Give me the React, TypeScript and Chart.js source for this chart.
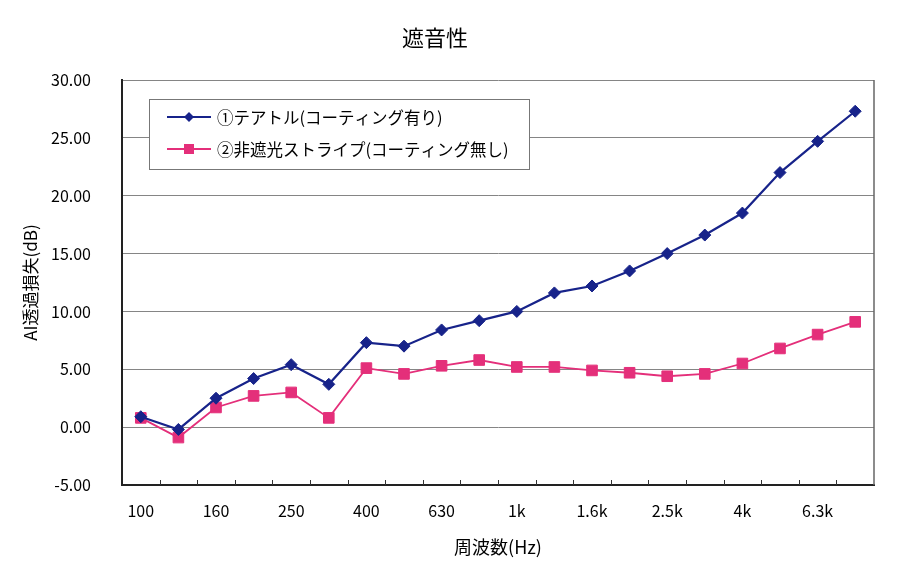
import React, { useEffect, useRef } from "react";
import { Chart, registerables } from "chart.js";

Chart.register(...registerables);

const categories = ["100", "125", "160", "200", "250", "315", "400", "500", "630", "800", "1k", "1.25k", "1.6k", "2k", "2.5k", "3.15k", "4k", "5k", "6.3k", "8k"];
const xTickLabels = ["100", "", "160", "", "250", "", "400", "", "630", "", "1k", "", "1.6k", "", "2.5k", "", "4k", "", "6.3k", ""];
const seriesCoated = [0.9, -0.2, 2.5, 4.2, 5.4, 3.7, 7.3, 7.0, 8.4, 9.2, 10.0, 11.6, 12.2, 13.5, 15.0, 16.6, 18.5, 22.0, 24.7, 27.3];
const seriesUncoated = [0.8, -0.9, 1.7, 2.7, 3.0, 0.8, 5.1, 4.6, 5.3, 5.8, 5.2, 5.2, 4.9, 4.7, 4.4, 4.6, 5.5, 6.8, 8.0, 9.1];
const seriesNames = ["①テアトル(コーティング有り)", "②非遮光ストライプ(コーティング無し)"];
const yTicks = { min: -5, max: 30, step: 5 };

const BLUE = "#17238a";
const PINK = "#e42f7a";
const FONT = "'Noto Sans CJK JP', 'Noto Sans', sans-serif";

const decorPlugin = {
  id: "decor",
  beforeDatasetsDraw(chart: any) {
    const { ctx, chartArea } = chart;
    const { left, right, top, bottom } = chartArea;
    ctx.save();
    ctx.strokeStyle = "#666";
    ctx.lineWidth = 1.5;
    ctx.beginPath();
    ctx.moveTo(right, top);
    ctx.lineTo(right, bottom);
    ctx.stroke();
    const xs = chart.scales.x;
    ctx.strokeStyle = "#333";
    ctx.lineWidth = 1;
    for (let i = 1; i < categories.length; i++) {
      const px = (xs.getPixelForValue(i - 1) + xs.getPixelForValue(i)) / 2;
      ctx.beginPath();
      ctx.moveTo(Math.round(px) + 0.5, bottom);
      ctx.lineTo(Math.round(px) + 0.5, bottom - 5);
      ctx.stroke();
    }
    ctx.restore();
  },
  afterDraw(chart: any) {
    const { ctx, chartArea } = chart;
    ctx.save();
    ctx.fillStyle = "#000";
    ctx.font = `22px ${FONT}`;
    ctx.textAlign = "center";
    ctx.textBaseline = "middle";
    ctx.fillText("遮音性", 435, 38);

    const bx = chartArea.left + 27;
    const by = chartArea.top + 19;
    const bw = 380;
    const bh = 70;
    ctx.fillStyle = "#fff";
    ctx.fillRect(bx, by, bw, bh);
    ctx.strokeStyle = "#777";
    ctx.lineWidth = 1;
    ctx.strokeRect(bx + 0.5, by + 0.5, bw, bh);

    const rows = [
      { name: seriesNames[0], color: BLUE, marker: "diamond", dy: 18 },
      { name: seriesNames[1], color: PINK, marker: "square", dy: 50 },
    ];
    ctx.font = `16.5px ${FONT}`;
    ctx.textAlign = "left";
    rows.forEach((r) => {
      const y = by + r.dy;
      ctx.strokeStyle = r.color;
      ctx.lineWidth = 2;
      ctx.beginPath();
      ctx.moveTo(bx + 18, y);
      ctx.lineTo(bx + 62, y);
      ctx.stroke();
      const cx = bx + 40;
      ctx.fillStyle = r.color;
      if (r.marker === "diamond") {
        ctx.beginPath();
        ctx.moveTo(cx, y - 5);
        ctx.lineTo(cx + 5, y);
        ctx.lineTo(cx, y + 5);
        ctx.lineTo(cx - 5, y);
        ctx.closePath();
        ctx.fill();
      } else {
        ctx.fillRect(cx - 5, y - 5, 10, 10);
      }
      ctx.fillStyle = "#000";
      ctx.fillText(r.name, bx + 68, y + 1);
    });
    ctx.restore();
  },
};

export default function App() {
  const ref = useRef<HTMLCanvasElement>(null);
  useEffect(() => {
    if (!ref.current) return;
    const chart = new Chart(ref.current, {
      type: "line",
      data: {
        labels: categories,
        datasets: [
          {
            label: seriesNames[0],
            data: seriesCoated,
            borderColor: BLUE,
            backgroundColor: BLUE,
            borderWidth: 2.2,
            pointStyle: "rectRot",
            pointRadius: 6,
            pointBorderWidth: 1,
            tension: 0,
          },
          {
            label: seriesNames[1],
            data: seriesUncoated,
            borderColor: PINK,
            backgroundColor: PINK,
            borderWidth: 1.8,
            pointStyle: "rect",
            pointRadius: 7.5,
            pointBorderWidth: 1,
            tension: 0,
          },
        ],
      },
      options: {
        animation: false,
        responsive: true,
        maintainAspectRatio: false,
        layout: { padding: { left: 0, right: 24, top: 80, bottom: 0 } },
        plugins: {
          legend: { display: false },
          title: { display: false },
          tooltip: { enabled: false },
        },
        scales: {
          x: {
            type: "category",
            offset: true,
            afterFit: (s: any) => {
              s.height = 93;
            },
            grid: { display: false, drawTicks: false },
            border: { display: true, color: "#222", width: 2 },
            ticks: {
              autoSkip: false,
              maxRotation: 0,
              padding: 16,
              color: "#000",
              font: { family: FONT, size: 16 },
              callback: (_v: any, i: number) => xTickLabels[i],
            },
            title: {
              display: true,
              text: "周波数(Hz)",
              color: "#000",
              font: { family: FONT, size: 18 },
              padding: { top: 4, bottom: 20 },
            },
          },
          y: {
            min: yTicks.min,
            max: yTicks.max,
            afterFit: (s: any) => {
              s.width = 122;
            },
            grid: { color: "#858585", lineWidth: 1, drawTicks: false },
            border: { display: true, color: "#222", width: 2 },
            ticks: {
              stepSize: yTicks.step,
              padding: 31,
              color: "#000",
              font: { family: FONT, size: 16 },
              callback: (v: any) => Number(v).toFixed(2),
            },
            title: {
              display: true,
              text: "AI透過損失(dB)",
              color: "#000",
              font: { family: FONT, size: 17 },
              padding: { top: 20, bottom: 0 },
            },
          },
        },
      },
      plugins: [decorPlugin],
    });
    return () => chart.destroy();
  }, []);
  return (
    <div style={{ position: "fixed", left: 0, top: 0, width: 898, height: 578, background: "#fff" }}>
      <canvas ref={ref} />
    </div>
  );
}
